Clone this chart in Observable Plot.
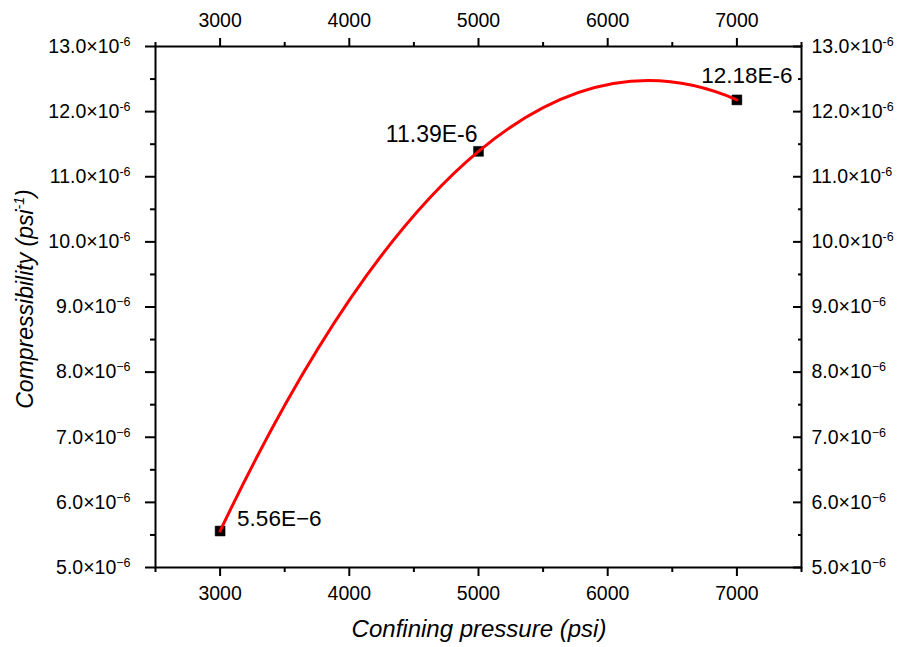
<!DOCTYPE html>
<html>
<head>
<meta charset="utf-8">
<script src="https://cdn.jsdelivr.net/npm/d3@7"></script>
<script src="https://cdn.jsdelivr.net/npm/@observablehq/plot@0.6"></script>
<style>
  html, body { margin: 0; padding: 0; background: #fff; }
</style>
</head>
<body>
<div id="chart"></div>
<script>
// ---- data (compressibility in units of 1e-6 psi^-1) ----
const pressure = [3000, 5000, 7000];
const compressibility = [5.56, 11.39, 12.18];
const pointLabels = ["5.56E\u22126", "11.39E-6", "12.18E-6"];

const xTicks = [3000, 4000, 5000, 6000, 7000];
const xMinorTicks = [2500, 3500, 4500, 5500, 6500, 7500];
const yTicks = [5, 6, 7, 8, 9, 10, 11, 12, 13];
const yMinorTicks = [5.5, 6.5, 7.5, 8.5, 9.5, 10.5, 11.5, 12.5];
const yTickLabels = ["5.0", "6.0", "7.0", "8.0", "9.0", "10.0", "11.0", "12.0", "13.0"];
const yExpSigns = ["\u2212", "\u2212", "\u2212", "\u2212", "\u2212", "-", "-", "-", "-"];

const points = pressure.map((p, i) => ({p, c: compressibility[i], label: pointLabels[i]}));

// smooth curve: parabola through the points, drawn as quadratic Bezier segments
function curveParabola(context) {
  let pts = [];
  return {
    areaStart() {}, areaEnd() {},
    lineStart() { pts = []; },
    point(x, y) { pts.push([+x, +y]); },
    lineEnd() {
      if (!pts.length) return;
      context.moveTo(pts[0][0], pts[0][1]);
      if (pts.length < 3) { for (const q of pts.slice(1)) context.lineTo(q[0], q[1]); return; }
      const [[x0, y0], [x1, y1], [x2, y2]] = pts;
      const d = (x) =>
        y0 * ((x - x1) + (x - x2)) / ((x0 - x1) * (x0 - x2)) +
        y1 * ((x - x0) + (x - x2)) / ((x1 - x0) * (x1 - x2)) +
        y2 * ((x - x0) + (x - x1)) / ((x2 - x0) * (x2 - x1));
      for (let i = 0; i < pts.length - 1; i++) {
        const [ax, ay] = pts[i], [bx, by] = pts[i + 1];
        const cx = (ax + bx) / 2, cy = ay + d(ax) * (bx - ax) / 2;
        context.quadraticCurveTo(cx, cy, bx, by);
      }
    }
  };
}

const font = "Arial, 'Liberation Sans', sans-serif";
const tickFont = 19.5;
const xFmt = (d) => String(d);
const yFmt = (d) => yTickLabels[yTicks.indexOf(d)] + "\u00d710^" + yExpSigns[yTicks.indexOf(d)] + "6";
const blank = () => "";

const chart = Plot.plot({
  width: 899,
  height: 647,
  marginLeft: 155,
  marginRight: 98,
  marginTop: 46,
  marginBottom: 80,
  style: {fontFamily: font, fontSize: tickFont + "px", color: "black", background: "white"},
  x: {domain: [2500, 7500]},
  y: {domain: [5, 13]},
  marks: [
    Plot.axisX(xTicks, {anchor: "bottom", tickSize: 9, tickPadding: 10, strokeWidth: 2, label: null, tickFormat: xFmt, fontSize: tickFont}),
    Plot.axisX(xMinorTicks, {anchor: "bottom", tickSize: 5, strokeWidth: 2, label: null, tickFormat: blank}),
    Plot.axisX(xTicks, {anchor: "top", tickSize: 9, tickPadding: 11, strokeWidth: 2, label: null, tickFormat: xFmt, fontSize: tickFont}),
    Plot.axisX(xMinorTicks, {anchor: "top", tickSize: 5, strokeWidth: 2, label: null, tickFormat: blank}),
    Plot.axisY(yTicks, {anchor: "left", tickSize: 10, tickPadding: 15, strokeWidth: 2, label: null, tickFormat: yFmt, fontSize: tickFont}),
    Plot.axisY(yMinorTicks, {anchor: "left", tickSize: 5, strokeWidth: 2, label: null, tickFormat: blank}),
    Plot.axisY(yTicks, {anchor: "right", tickSize: -9, strokeWidth: 2, label: null, tickFormat: blank}),
    Plot.axisY(yMinorTicks, {anchor: "right", tickSize: -4, strokeWidth: 2, label: null, tickFormat: blank}),
    Plot.axisY(yTicks, {anchor: "right", tickSize: 0, tickPadding: 10, label: null, tickFormat: yFmt, fontSize: tickFont}),
    Plot.frame({stroke: "black", strokeWidth: 2}),
    Plot.dot(points, {x: "p", y: "c", symbol: "square", r: 5.6, fill: "black", stroke: "black", strokeWidth: 0.5}),
    Plot.line(points, {x: "p", y: "c", stroke: "#ff0000", strokeWidth: 3, curve: curveParabola}),
    Plot.text([points[0]], {x: "p", y: "c", text: "label", textAnchor: "start", lineAnchor: "bottom", dx: 17, dy: -5.5, fontSize: 22.5, fill: "black"}),
    Plot.text([points[1]], {x: "p", y: "c", text: "label", textAnchor: "end", lineAnchor: "bottom", dx: -1, dy: -9, fontSize: 23, fill: "black"}),
    Plot.text([points[2]], {x: "p", y: "c", text: "label", textAnchor: "middle", lineAnchor: "bottom", dx: 10, dy: -16.5, fontSize: 22.5, fill: "black"})
  ]
});

document.getElementById("chart").appendChild(chart);

const svg = d3.select(chart.tagName.toLowerCase() === "svg" ? chart : chart.querySelector("svg"));

// tick label size and superscripts for labels written as "...×10^-6"
svg.selectAll("text").each(function () {
  const t = this.textContent;
  const el = d3.select(this);
  if (/^\d{4}$/.test(t)) { el.style("font-size", tickFont + "px"); return; }
  if (!t.includes("^")) return;
  const [base, exp] = t.split("^");
  el.style("font-size", tickFont + "px");
  el.text(null);
  el.append("tspan").text(base);
  el.append("tspan").attr("dy", -7).style("font-size", "12.5px").text(exp);
});
svg.selectAll("g[aria-label$='tick'] path").style("stroke-width", "2px");
svg.selectAll("g[aria-label='frame'] rect, rect[aria-label='frame']").style("stroke-width", "2px");

// axis titles
svg.append("text")
  .attr("x", 479).attr("y", 637)
  .attr("text-anchor", "middle")
  .attr("font-family", font).attr("font-style", "italic")
  .style("font-size", "24px")
  .attr("fill", "black")
  .text("Confining pressure (psi)");

const yt = svg.append("text")
  .attr("transform", "translate(33,299) rotate(-90)")
  .attr("text-anchor", "middle")
  .attr("font-family", font).attr("font-style", "italic")
  .style("font-size", "23px")
  .attr("fill", "black");
yt.append("tspan").text("Compressibility (psi");
yt.append("tspan").attr("dy", -9).style("font-size", "14px").text("-1");
yt.append("tspan").attr("dy", 9).text(")");
</script>
</body>
</html>
